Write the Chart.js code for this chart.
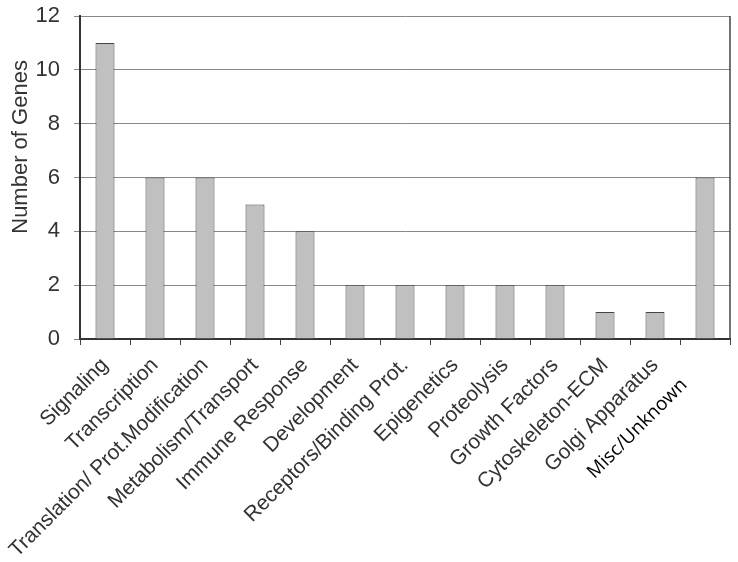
<!DOCTYPE html>
<html>
<head>
<meta charset="utf-8">
<script src="https://cdn.jsdelivr.net/npm/chart.js@4"></script>
<style>
  html, body { margin: 0; padding: 0; background: #fff; }
  #wrap { width: 738px; height: 562px; }
</style>
</head>
<body>
<div id="wrap"><canvas id="genes"></canvas></div>
<script>
// Gene counts per functional category
const categories = [
    'Signaling', 'Transcription', 'Translation/ Prot.Modification',
    'Metabolism/Transport', 'Immune Response', 'Development',
    'Receptors/Binding Prot.', 'Epigenetics', 'Proteolysis',
    'Growth Factors', 'Cytoskeleton-ECM', 'Golgi Apparatus', 'Misc/Unknown'
];
const geneCounts = [11, 6, 6, 5, 4, 2, 2, 2, 2, 2, 1, 1, 6];
const yTicks = [0, 2, 4, 6, 8, 10, 12];

const lastIdx = categories.length - 1;

// box around the plot (right side is missing otherwise)
const frame = {
    id: 'frame',
    afterDatasetsDraw(chart) {
        const a = chart.chartArea;
        const ctx = chart.ctx;
        ctx.save();
        ctx.strokeStyle = '#444';
        ctx.lineWidth = 1.5;
        ctx.beginPath();
        ctx.moveTo(a.right, a.top);
        ctx.lineTo(a.right, a.bottom);
        ctx.stroke();
        ctx.restore();
    }
};

new Chart(document.getElementById('genes'), {
    type: 'bar',
    data: {
        labels: categories,
        datasets: [{
            data: geneCounts,
            backgroundColor: '#c0c0c0',
            borderColor: '#444',
            borderWidth: 1,
            barPercentage: 0.38,
            categoryPercentage: 1
        }]
    },
    options: {
        responsive: true,
        maintainAspectRatio: false,
        animation: false,
        layout: { padding: { top: 16, right: 8, left: 0, bottom: 0 } },
        plugins: {
            legend: { display: false },
            tooltip: { enabled: false }
        },
        scales: {
            x: {
                afterFit: (s) => { s.height = 223; },
                grid: {
                    drawOnChartArea: false,
                    drawTicks: true,
                    tickLength: 6,
                    color: '#444'
                },
                border: { color: '#333', width: 2 },
                ticks: {
                    minRotation: 45,
                    maxRotation: 45,
                    autoSkip: false,
                    padding: 8,
                    // the last label sits a bit lower in the original
                    callback: (v, i) => i === lastIdx ? categories[i] + '      ' : categories[i],
                    color: (c) => c.index === lastIdx ? '#000' : '#333',
                    font: (c) => c.index === lastIdx
                        ? { family: 'Open Sans', size: 19 }
                        : { family: 'Liberation Sans', size: 21 }
                }
            },
            y: {
                min: 0,
                max: 12,
                afterFit: (s) => { s.width = 80; s.paddingTop = 0; s.paddingBottom = 0; },
                afterBuildTicks: (s) => { s.ticks = yTicks.map(v => ({ value: v })); },
                grid: {
                    color: '#888',
                    lineWidth: 1,
                    tickLength: 6
                },
                border: { color: '#333', width: 2 },
                ticks: {
                    stepSize: 2,
                    padding: 14,
                    color: '#333',
                    font: { family: 'Liberation Sans', size: 22 }
                },
                title: {
                    display: true,
                    // leading spaces nudge the title up like the original
                    text: '          Number of Genes',
                    color: '#333',
                    padding: { top: 8, bottom: 0 },
                    font: { family: 'Liberation Sans', size: 22 }
                }
            }
        }
    },
    plugins: [frame]
});
</script>
</body>
</html>
